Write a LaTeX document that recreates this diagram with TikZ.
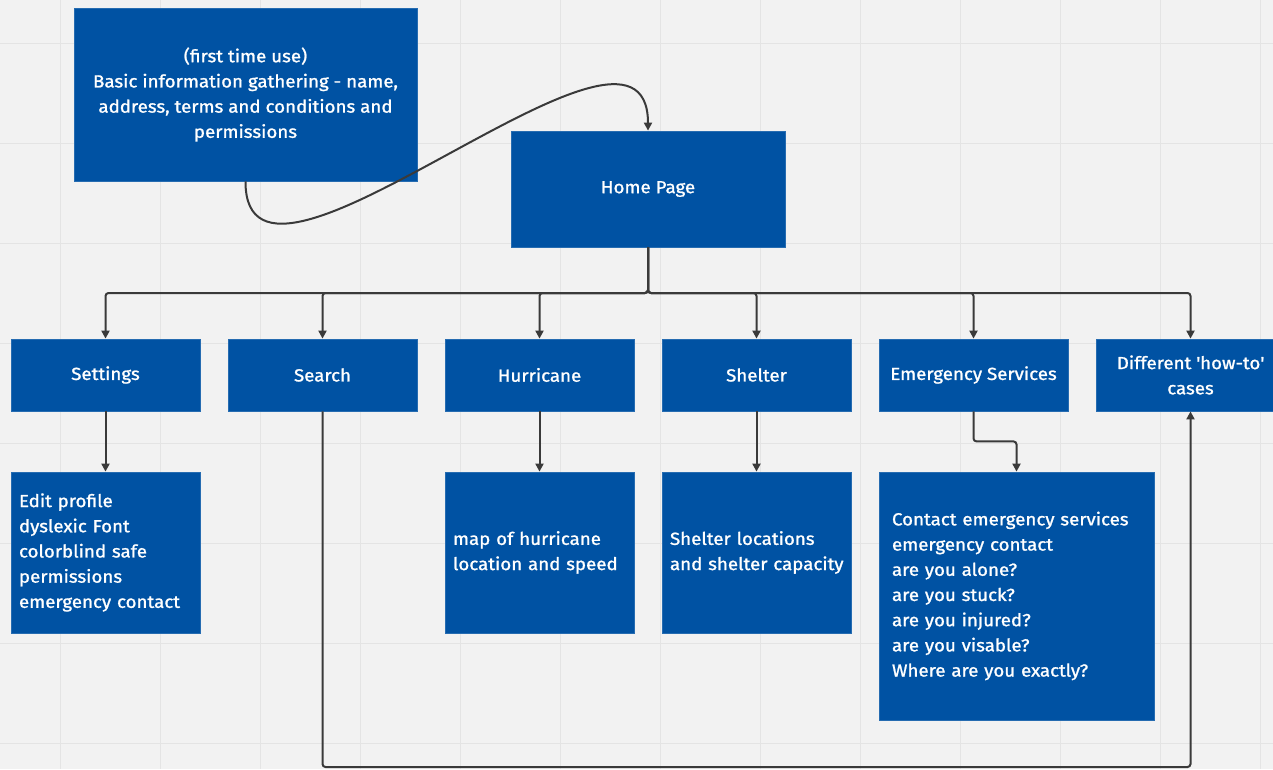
\documentclass[tikz,border=0pt]{standalone}
\usepackage{fontspec}
\setmainfont[FakeStretch=1.07,FakeBold=1.2]{Fira Sans}
\usetikzlibrary{arrows.meta}
\definecolor{boxblue}{HTML}{0052A3}
\definecolor{bg}{HTML}{F2F2F2}
\definecolor{gridc}{HTML}{E4E4E4}
\definecolor{linec}{HTML}{3A3A3A}
\tikzset{
  box/.style={draw=boxblue!85!white, line width=0.8pt, fill=boxblue, text=white, inner sep=0pt,
    font=\fontsize{17.5}{25.2}\selectfont, align=center},
  lbox/.style={box, align=left, inner xsep=8pt},
  conn/.style={draw=linec, line width=2pt, rounded corners=3pt, -{Triangle[length=8pt,width=8pt]}},
}
\begin{document}
\begin{tikzpicture}[x=1pt,y=-1pt]
\fill[bg] (0,0) rectangle (1273,769);
\useasboundingbox (0,0) rectangle (1273,769);
\foreach \gx in {60,160,...,1260} \draw[gridc, line width=1pt] (\gx,0) -- (\gx,769);
\foreach \gy in {43,143,...,743} \draw[gridc, line width=1pt] (0,\gy) -- (1273,\gy);

\node[box, minimum width=343pt, minimum height=173pt] (first) at (245.5,94.5)
  {(first time use)\\Basic information gathering - name,\\address, terms and conditions and\\permissions};
\node[box, minimum width=274pt, minimum height=116pt] (home) at (648,189) {Home Page};

\node[box, minimum width=189pt, minimum height=72pt] (settings) at (105.5,375) {Settings};
\node[box, minimum width=189pt, minimum height=72pt] (search) at (322.5,375) {Search};
\node[box, minimum width=189pt, minimum height=72pt] (hurr) at (539.5,375) {Hurricane};
\node[box, minimum width=189pt, minimum height=72pt] (shelter) at (756.5,375) {Shelter};
\node[box, minimum width=189pt, minimum height=72pt] (emerg) at (973.5,375) {Emergency Services};
\node[box, minimum width=189pt, minimum height=72pt] (diff) at (1190.5,375) {Different \textquotesingle how-to\textquotesingle\\cases};

\node[lbox, text width=173pt, minimum height=161pt] (setsub) at (105.5,552.5)
  {Edit profile\\dyslexic Font\\colorblind safe\\permissions\\\mbox{emergency contact}};
\node[lbox, text width=173pt, minimum height=161pt] (hursub) at (539.5,552.5)
  {map of hurricane\\\mbox{location and speed}};
\node[lbox, text width=173pt, minimum height=161pt] (shelsub) at (756.5,552.5)
  {Shelter locations\\\mbox{and shelter capacity}};
\node[lbox, inner xsep=13pt, text width=249pt, minimum height=248pt] (emsub) at (1016.5,596)
  {Contact emergency services\\emergency contact\\are you alone?\\are you stuck?\\are you injured?\\are you visable?\\Where are you exactly?};

\coordinate (bus) at (648,293);
\coordinate (bottom) at (322.5,767);
\foreach \t in {settings,search,hurr,shelter,emerg,diff}
  \draw[conn] (home.south) -- (bus) -| (\t.north);
\draw[conn] (settings.south) -- (setsub.north);
\draw[conn] (hurr.south) -- (hursub.north);
\draw[conn] (shelter.south) -- (shelsub.north);
\draw[conn] (emerg.south) -- ++(0,30) -| (emsub.north);
\draw[conn] (search.south) -- (bottom) -| (diff.south);
\draw[conn, rounded corners=0pt] (first.south) .. controls (245,346) and (648,-34) .. (home.north);
\end{tikzpicture}
\end{document}
